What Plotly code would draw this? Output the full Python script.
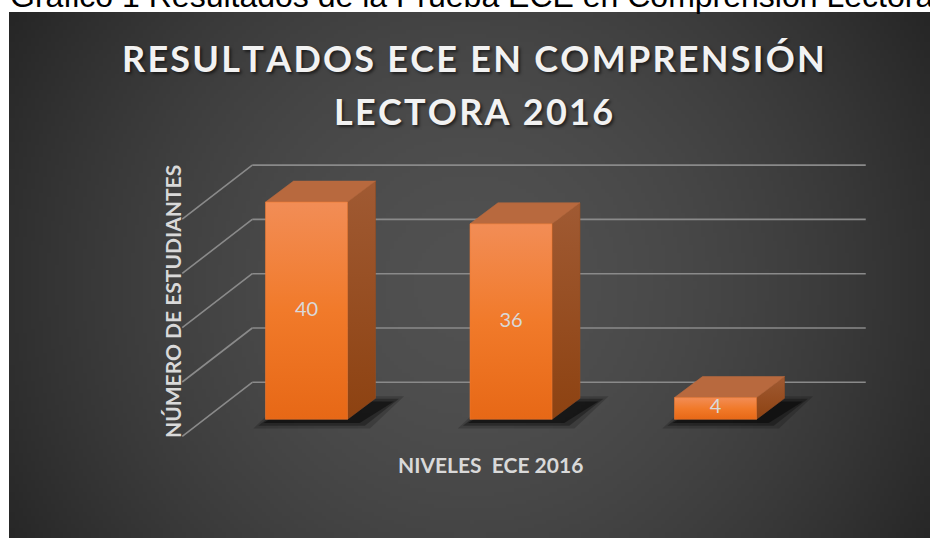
import base64
import struct
import zlib

import numpy as np
import plotly.graph_objects as go

# ---------------- data ----------------
categories = ["Satisfactorio", "En proceso", "En inicio"]
students = [40, 36, 4]
value_labels = ["40", "36", "4"]
grid_values = [0, 10, 20, 30, 40]

caption = "Gráfico 1 Resultados de la Prueba ECE en Comprensión Lectora"
title_lines = ["RESULTADOS ECE EN COMPRENSIÓN", "LECTORA 2016"]
y_title = "NÚMERO DE ESTUDIANTES"
x_title = "NIVELES  ECE 2016"

# ---------------- geometry / style ----------------
W, H = 930, 539
X0, SX = 306.5, 204.5     # pixel of category 0 centre, pixels per category
Y0, SY = 419.3, 5.43      # pixel of value 0 (bar front plane), pixels per unit


def px_to_x(px):
    return (px - X0) / SX


def py_to_y(py):
    return (Y0 - py) / SY


BAR_W = 82 / SX
BAR_DI, BAR_DV = 28 / SX, 21 / SY          # bar depth
WALL_BI, WALL_BV = 48 / SX, 37 / SY        # back wall offset
WALL_FI, WALL_FV = -22 / SX, -17 / SY      # front edge offset

FRONT_GRAD = [[0, "#e76816"], [0.5, "#f17a2a"], [1, "#f28d56"]]
SIDE_GRAD = [[0, "#8d4211"], [1, "#a05a33"]]
TOP_COLOR = "#b8693e"
GRID_COLOR = "#8a8a8a"
LIGHT_TEXT = "#d9d9d9"


def spaced(s, sep="\u200a"):
    return sep.join(s)


def png_gray(arr):
    h, w = arr.shape
    raw = b"".join(b"\x00" + arr[r].tobytes() for r in range(h))

    def chunk(t, d):
        c = struct.pack(">I", len(d)) + t + d
        return c + struct.pack(">I", zlib.crc32(t + d) & 0xFFFFFFFF)

    return (b"\x89PNG\r\n\x1a\n"
            + chunk(b"IHDR", struct.pack(">IIBBBBB", w, h, 8, 0, 0, 0, 0))
            + chunk(b"IDAT", zlib.compress(raw, 9))
            + chunk(b"IEND", b""))


# radial background of the chart panel
PX0, PY0, PX1, PY1 = 9, 12, 930, 538
gw, gh = 231, 132
gx = np.linspace(PX0, PX1, gw)
gy = np.linspace(PY0, PY1, gh)
GX, GY = np.meshgrid(gx, gy)
dist = np.sqrt((GX - 470) ** 2 + (GY - 285) ** 2)
shade = 81 - 42 * np.clip(dist / 530, 0, 1.2) ** 1.7
bg_png = png_gray(np.clip(shade, 30, 90).astype(np.uint8))
bg_uri = "data:image/png;base64," + base64.b64encode(bg_png).decode()

fig = go.Figure()

# ---------------- gridlines (back wall + left wall) ----------------
x_left, x_right = -0.5, len(categories) - 0.5
gxs, gys = [], []
for g in grid_values:
    gxs += [x_left + WALL_BI, x_right + WALL_BI, None,
            x_left + WALL_FI, x_left + WALL_BI, None]
    gys += [g + WALL_BV, g + WALL_BV, None,
            g + WALL_FV, g + WALL_BV, None]
fig.add_trace(go.Scatter(x=gxs, y=gys, mode="lines",
                         line=dict(color=GRID_COLOR, width=1.6),
                         hoverinfo="skip"))

# ---------------- bars ----------------
for i, v in enumerate(students):
    l, r = i - BAR_W / 2, i + BAR_W / 2
    # shadow on the floor
    for grow, alpha in [(0.05, 0.18), (0.025, 0.3), (0.0, 0.45)]:
        sx = [l - 0.01 - grow, r + 0.06 + grow, r + BAR_DI + 0.09 + grow,
              l + BAR_DI + 0.02 - grow, l - 0.01 - grow]
        sy = [-0.7 - grow * 20, -0.7 - grow * 20, BAR_DV - 0.6 + grow * 20,
              BAR_DV - 0.6 + grow * 20, -0.7 - grow * 20]
        fig.add_trace(go.Scatter(x=sx, y=sy, mode="lines", fill="toself",
                                 fillcolor=f"rgba(0,0,0,{alpha})",
                                 line=dict(width=0), hoverinfo="skip"))
    # side face
    fig.add_trace(go.Scatter(
        x=[r, r + BAR_DI, r + BAR_DI, r, r],
        y=[0, BAR_DV, v + BAR_DV, v, 0],
        mode="lines", fill="toself",
        fillgradient=dict(type="vertical", colorscale=SIDE_GRAD),
        line=dict(width=0.6, color="#964d22"), hoverinfo="skip"))
    # top face
    fig.add_trace(go.Scatter(
        x=[l, r, r + BAR_DI, l + BAR_DI, l],
        y=[v, v, v + BAR_DV, v + BAR_DV, v],
        mode="lines", fill="toself", fillcolor=TOP_COLOR,
        line=dict(width=0.6, color=TOP_COLOR), hoverinfo="skip"))
    # front face
    fig.add_trace(go.Scatter(
        x=[l, r, r, l, l],
        y=[0, 0, v, v, 0],
        mode="lines", fill="toself",
        fillgradient=dict(type="vertical", colorscale=FRONT_GRAD),
        line=dict(width=0.6, color="#ee7a33"),
        hovertemplate=f"{categories[i]}: {v}<extra></extra>"))

# data labels
fig.add_trace(go.Scatter(
    x=list(range(len(categories))), y=[v / 2 for v in students],
    mode="text", text=value_labels,
    textfont=dict(family="Lato, Open Sans, sans-serif", size=20, color=LIGHT_TEXT),
    hoverinfo="skip"))

# ---------------- texts ----------------
ann = []
ann.append(dict(text=caption, x=8 / W, y=1 - 16 / H, xref="paper", yref="paper",
                xanchor="left", yanchor="bottom", showarrow=False,
                font=dict(family="Liberation Sans, Arial, sans-serif", size=32,
                          color="#000000")))
title_font = dict(family="Lato, Open Sans, sans-serif", size=36,
                  color="#f2f2f2", weight="bold",
                  shadow="2px 2px 3px rgba(0,0,0,0.55)")
for line, cy in zip(title_lines, [58, 111]):
    ann.append(dict(text=spaced(line), x=474 / W, y=1 - cy / H,
                    xref="paper", yref="paper", xanchor="center",
                    yanchor="middle", showarrow=False, font=title_font))
axis_font = dict(family="Lato, Open Sans, sans-serif", size=21,
                 color=LIGHT_TEXT, weight="bold")
ann.append(dict(text=y_title, x=172 / W, y=1 - 302 / H, xref="paper",
                yref="paper", xanchor="center", yanchor="middle",
                textangle=-90, showarrow=False, font=axis_font))
ann.append(dict(text=x_title, x=490 / W, y=1 - 464 / H, xref="paper",
                yref="paper", xanchor="center", yanchor="middle",
                showarrow=False, font=axis_font))

fig.update_layout(
    width=W, height=H,
    margin=dict(l=0, r=0, t=0, b=0, pad=0),
    paper_bgcolor="#ffffff",
    plot_bgcolor="rgba(0,0,0,0)",
    showlegend=False,
    xaxis=dict(range=[px_to_x(0), px_to_x(W)], visible=False, fixedrange=True),
    yaxis=dict(range=[py_to_y(H), py_to_y(0)], visible=False, fixedrange=True),
    annotations=ann,
    images=[dict(source=bg_uri, xref="paper", yref="paper",
                 x=PX0 / W, y=1 - PY0 / H,
                 sizex=(PX1 - PX0) / W, sizey=(PY1 - PY0) / H,
                 xanchor="left", yanchor="top", sizing="stretch",
                 layer="below")],
)

fig.write_html("out.html",
               config={"displayModeBar": False},
               post_script="document.body.style.margin='0';"
                           "document.body.style.overflow='hidden';")
